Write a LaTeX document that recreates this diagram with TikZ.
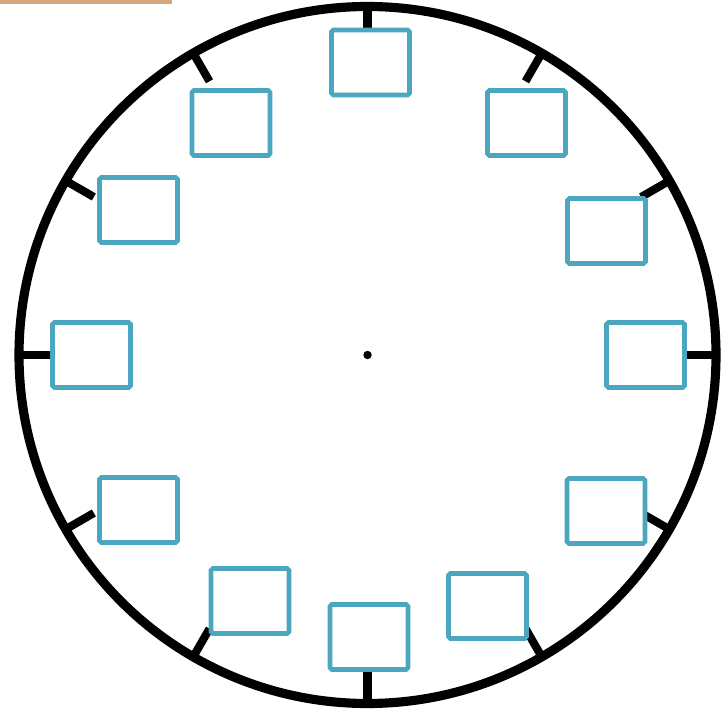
\documentclass[tikz,border=0pt]{standalone}
\definecolor{slotblue}{RGB}{75,166,192}
\definecolor{tabtan}{RGB}{214,168,125}
\begin{document}
\begin{tikzpicture}[x=0.02cm, y=0.02cm,
    slot/.style={draw=slotblue, line width=2.6pt, fill=white, rounded corners=1pt,
                 minimum width=1.56cm, minimum height=1.30cm, inner sep=0pt}]
				% 0. 画布与顶部色条
				\useasboundingbox (0,0) rectangle (722,720);
				\fill[tabtan] (0,715.5) rectangle (172,720);
				
				% 1. 钟面外圈
				\coordinate (O) at (367.5,365);
				\draw[line width=5.2pt] (O) circle (348.5);
				
				% 2. 十二个刻度 (先画，方框随后覆盖)
				\foreach \a in {0,30,...,330}
					\draw[line width=4.6pt, shift={(O)}] (\a:316) -- (\a:349);
				
				% 3. 十二个空白方框 (按图中实际位置微调)
				\foreach \n/\px/\py in {12/370.5/657.5, 1/526.5/597, 2/606.5/489, 3/645.5/365,
				                        4/606/209, 5/487.5/114, 6/369/83, 7/250/119,
				                        8/138.5/210, 9/91.5/365, 10/138.5/510, 11/231/597}
					\node[slot] (box\n) at (\px,\py) {};
				
				% 4. 圆心
				\fill (O) circle (4.2);
			\end{tikzpicture}
\end{document}
